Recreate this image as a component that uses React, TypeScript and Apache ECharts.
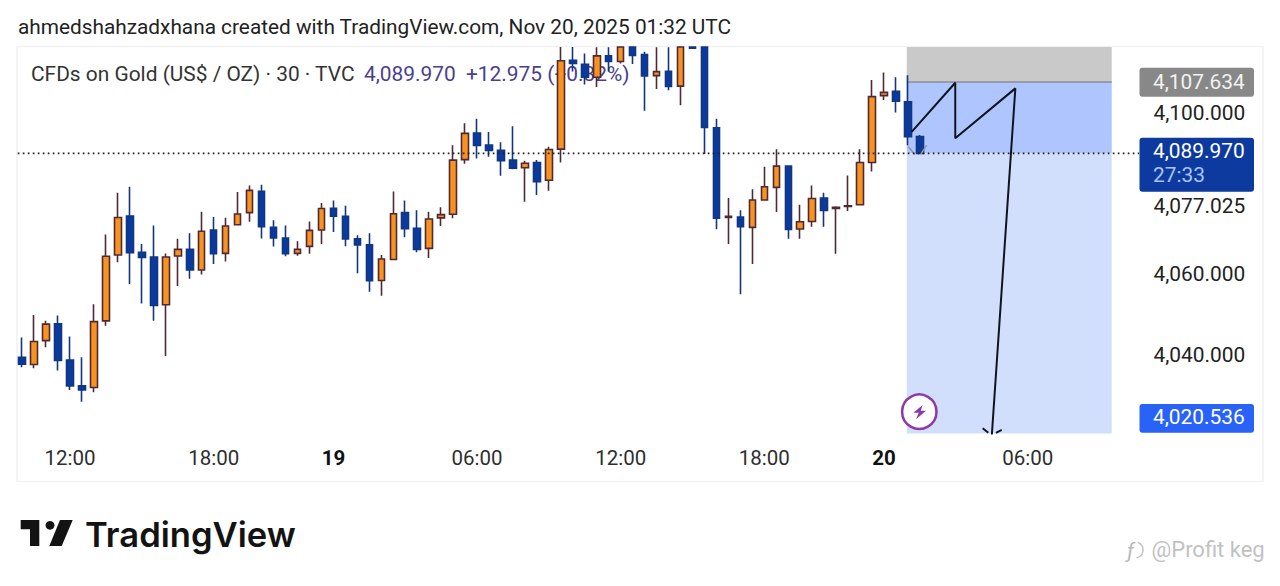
import React, { useEffect, useRef } from "react";
import * as echarts from "echarts";

const opens = [4039.5,4037.7,4043.6,4047.8,4038.8,4032.4,4032.0,4048.5,4064.8,4074.45,4065.5,4064.3,4052.5,4064.55,4066.2,4061.1,4071.0,4065.2,4072.3,4075.3,4080.6,4071.65,4069.0,4065.2,4066.95,4071.0,4076.35,4074.4,4068.8,4067.3,4058.5,4063.7,4075.3,4071.4,4066.45,4074.0,4074.9,4088.4,4095.0,4092.0,4090.7,4088.3,4086.4,4087.7,4083.3,4091.0,4113.0,4112.0,4108.8,4114.1,4112.7,4118.0,4114.4,4109.2,4110.3,4106.6,4117.0,4119.0,4096.3,4074.1,4074.2,4071.65,4078.4,4081.55,4086.8,4071.25,4073.1,4078.9,4076.35,4076.8,4077.25,4087.7,4104.25,4105.3,4102.75,4094.1];
const closes = [4037.8,4043.4,4047.7,4038.7,4032.4,4031.4,4048.3,4064.5,4074.1,4065.4,4064.2,4052.3,4064.3,4066.2,4061.1,4070.7,4065.1,4072.0,4074.95,4080.8,4071.8,4069.0,4065.1,4066.2,4070.9,4076.3,4074.4,4068.8,4067.3,4058.45,4063.8,4075.0,4071.3,4066.2,4073.7,4074.8,4088.3,4094.9,4091.95,4090.7,4088.15,4086.3,4087.5,4082.95,4090.9,4112.9,4112.2,4108.8,4114.1,4112.7,4118.0,4114.2,4109.1,4110.2,4106.5,4119.0,4116.0,4096.4,4073.9,4074.4,4071.8,4078.4,4081.7,4086.8,4071.15,4073.05,4078.8,4075.85,4076.6,4077.0,4087.7,4104.0,4105.05,4102.9,4094.1,4089.97];
const lows = [4037.0,4036.75,4041.95,4036.2,4031.4,4028.5,4030.8,4047.3,4063.0,4057.6,4052.8,4048.55,4039.8,4057.1,4058.9,4060.0,4062.6,4063.2,4072.1,4073.05,4068.9,4066.9,4064.5,4064.6,4065.1,4067.5,4070.5,4067.0,4060.3,4055.7,4054.7,4063.7,4069.2,4065.5,4064.05,4072.0,4073.9,4087.4,4088.7,4089.1,4084.4,4086.0,4078.0,4079.65,4080.7,4087.7,4110.2,4107.0,4106.4,4110.2,4112.2,4112.1,4100.5,4105.9,4105.6,4101.85,4115.8,4089.8,4071.15,4067.5,4055.1,4062.6,4078.25,4075.45,4068.8,4068.8,4071.8,4071.8,4065.1,4075.7,4077.25,4085.5,4103.2,4100.1,4091.95,4089.8];
const highs = [4044.4,4049.95,4048.55,4049.8,4044.6,4039.5,4052.6,4069.9,4080.2,4081.7,4067.5,4072.1,4065.2,4068.8,4070.2,4075.5,4074.2,4074.0,4080.4,4082.0,4082.2,4073.4,4072.1,4068.2,4073.1,4077.7,4078.3,4077.0,4069.7,4070.2,4064.8,4080.5,4078.3,4075.9,4075.5,4076.6,4092.0,4097.4,4098.5,4095.25,4092.7,4096.7,4088.15,4088.3,4091.6,4118.0,4118.0,4114.7,4116.2,4116.2,4119.0,4119.0,4115.1,4116.2,4116.2,4120.0,4120.0,4121.0,4098.5,4078.9,4075.9,4081.05,4086.65,4091.0,4087.0,4077.25,4082.0,4080.2,4076.9,4084.5,4091.0,4108.1,4110.0,4108.8,4109.3,4094.5];

const barCount = 94;
const tickIndexes = [4, 16, 26, 38, 50, 62, 72, 84];
const tickLabels = ["12:00", "18:00", "19", "06:00", "12:00", "18:00", "20", "06:00"];
const boldLabels = ["19", "20"];
const priceTicks = [4100, 4077.025, 4060, 4040];

const axisMin = 4020.62;
const axisMax = 4116.29;
const lastPrice = 4089.97;
const targetTop = 4107.634;
const targetBottom = 4020.536;
const boxStart = 73.9;
const boxEnd = 91.02;
const zigzag = [[74.31, 4095.3], [77.95, 4107.45], [77.95, 4093.7], [82.97, 4106.05], [81.0, 4020.0]];
const arrowWingLeft = [[80.24, 4021.9], [80.71, 4020.8]];
const arrowWingRight = [[81.83, 4021.5], [81.35, 4020.8]];
const greyWingLeft = [[74.03, 4091.6], [74.58, 4089.7]];
const greyWingRight = [[75.56, 4092.0], [75.09, 4089.8]];

const FONT = "Roboto";
const fmt = (v: number) => v.toLocaleString("en-US", { minimumFractionDigits: 3, maximumFractionDigits: 3 });
const cap = (v: number) => Math.min(v, axisMax);

function lineSeries(data: number[][], color: string, width: number, z: number, type: any = "solid") {
  return {
    type: "line", xAxisIndex: 1, yAxisIndex: 0, data, showSymbol: false, symbol: "none", silent: true, z,
    lineStyle: { color, width, type }, clip: true,
  };
}

function txt(x: number, y: number, text: string, fill: string, fontSize = 20.9, extra: any = {}, z = 20) {
  return {
    type: "text", x, y, z, silent: true,
    style: { text, fill, fontFamily: FONT, fontSize, textVerticalAlign: "middle", textBaseline: "middle", ...extra },
  };
}
function tag(y: number, height: number, fill: string) {
  return {
    type: "rect", z: 19, silent: true,
    shape: { x: 1139.5, y, width: 114.5, height, r: 3 },
    style: { fill },
  };
}

const categories = Array.from({ length: barCount }, (_, i) => {
  const at = tickIndexes.indexOf(i);
  return at >= 0 ? tickLabels[at] : "";
});

export default function App() {
  const ref = useRef<HTMLDivElement>(null);
  useEffect(() => {
    document.body.style.margin = "0";
    document.body.style.background = "#fff";
    const chart = echarts.init(ref.current!, undefined, { renderer: "svg" });
    chart.setOption({
      animation: false,
      backgroundColor: "#ffffff",
      grid: { left: 16.2, top: 47, width: 1125.2, height: 386.5, containLabel: false },
      xAxis: [
        {
          type: "category", data: categories, boundaryGap: true,
          axisLine: { show: false }, axisTick: { show: false }, splitLine: { show: false },
          axisLabel: {
            interval: (i: number) => tickIndexes.includes(i),
            margin: 14, color: "#2e2e2e", fontFamily: FONT, fontSize: 20.5, hideOverlap: false,
            formatter: (v: string) => (boldLabels.includes(v) ? `{b|${v}}` : v),
            rich: { b: { fontWeight: 700, color: "#111", fontFamily: FONT, fontSize: 20.5 } },
          },
        },
        { type: "value", min: -0.5, max: barCount - 0.5, show: false },
      ],
      yAxis: {
        type: "value", position: "right", min: axisMin, max: axisMax, scale: true,
        axisLine: { show: false }, axisTick: { show: false }, splitLine: { show: false },
        axisLabel: {
          customValues: priceTicks, margin: 12, color: "#222", fontFamily: FONT, fontSize: 20.9,
          formatter: (v: number) => fmt(v),
        },
      },
      series: [
        {
          type: "line", xAxisIndex: 1, yAxisIndex: 0, data: [], silent: true, z: 1, showSymbol: false,
          markArea: {
            silent: true,
            data: [
              [{ coord: [boxStart, axisMax], itemStyle: { color: "#c9c9c9" } }, { coord: [boxEnd, targetTop] }],
              [{ coord: [boxStart, targetTop], itemStyle: { color: "#aec6fd" } }, { coord: [boxEnd, lastPrice] }],
              [{ coord: [boxStart, lastPrice], itemStyle: { color: "#d1dffd" } }, { coord: [boxEnd, targetBottom] }],
            ],
          },
        },
        lineSeries([[boxStart, targetTop], [boxEnd, targetTop]], "#8b8d93", 1.5, 2),
        lineSeries([[-0.37, lastPrice], [93.3, lastPrice]], "#222222", 1.7, 5, [1.7, 3.3]),
        {
          type: "candlestick", xAxisIndex: 0, yAxisIndex: 0, z: 3, barWidth: 7, silent: true, clip: true,
          data: opens.map((o, i) => [cap(o), cap(closes[i]), lows[i], cap(highs[i])]),
          itemStyle: {
            color: "#f7931e", color0: "#0b3a9f",
            borderColor: "#4f2a36", borderColor0: "#123680", borderWidth: 1.6,
          },
        },
        lineSeries(greyWingLeft, "#8f96ad", 1.5, 4),
        lineSeries(greyWingRight, "#8f96ad", 1.5, 4),
        lineSeries(zigzag, "#10141f", 2, 6),
        lineSeries(arrowWingLeft, "#10141f", 2, 6),
        lineSeries(arrowWingRight, "#10141f", 2, 6),
      ],
      graphic: [
        { type: "rect", z: -1, silent: true, shape: { x: 17, y: 46.5, width: 1246, height: 435 }, style: { fill: "transparent", stroke: "#f1f1f1", lineWidth: 1.5 } },
        txt(18, 27, "ahmedshahzadxhana created with TradingView.com, Nov 20, 2025 01:32 UTC", "#222222", 20.8),
        txt(31, 73.5, "CFDs on Gold (US$ / OZ) · 30 · TVC", "#333333", 20.9, {}, 0),
        txt(364, 73.5, "4,089.970", "#4b3f8c", 20.9, {}, 0),
        txt(466, 73.5, "+12.975 (+0.32%)", "#4b3f8c", 20.9, {}, 0),
        tag(67.7, 29, "#888888"),
        txt(1153, 81.5, fmt(targetTop), "#f2f2f2"),
        tag(137.7, 54, "#0d3a9e"),
        txt(1153, 151, fmt(lastPrice), "#ffffff"),
        txt(1153, 175, "27:33", "#a9c4fb"),
        tag(404, 28.7, "#2962f6"),
        txt(1153, 417, fmt(targetBottom), "#ffffff"),
        { type: "circle", z: 21, silent: true, shape: { cx: 919.3, cy: 411.7, r: 17.2 }, style: { fill: "#ffffff", stroke: "#8e3aa6", lineWidth: 2.5 } },
        { type: "polygon", z: 22, silent: true, shape: { points: [[922.7, 405], [913.3, 412.7], [918.7, 412.7], [916, 419.3], [926, 410.7], [920.7, 410.7]] }, style: { fill: "#8e3aa6" } },
        { type: "polygon", z: 20, silent: true, shape: { points: [[20.7, 520], [39.3, 520], [39.3, 546], [30, 546], [30, 529.3], [20.7, 529.3]] }, style: { fill: "#131313" } },
        { type: "circle", z: 20, silent: true, shape: { cx: 50, cy: 525.3, r: 4.4 }, style: { fill: "#131313" } },
        { type: "polygon", z: 20, silent: true, shape: { points: [[60, 520], [72.7, 520], [61.7, 546], [49.3, 546]] }, style: { fill: "#131313" } },
        txt(85, 534, "TradingView", "#131313", 34.6, { fontFamily: "Inter", fontWeight: 600 }),
        txt(1127, 551, "ƒ", "#b9b9b9", 21, { fontStyle: "italic" }),
        { type: "arc", z: 20, silent: true, shape: { cx: 1135, cy: 550, r: 8, startAngle: -1.2, endAngle: 1.4 }, style: { fill: "none", stroke: "#c4c4c4", lineWidth: 1.5 } },
        txt(1151.5, 549, "@Profit keg", "#c2c2c2", 22),
      ],
    });
    return () => chart.dispose();
  }, []);
  return <div ref={ref} style={{ position: "fixed", left: 0, top: 0, width: 1280, height: 586 }} />;
}
